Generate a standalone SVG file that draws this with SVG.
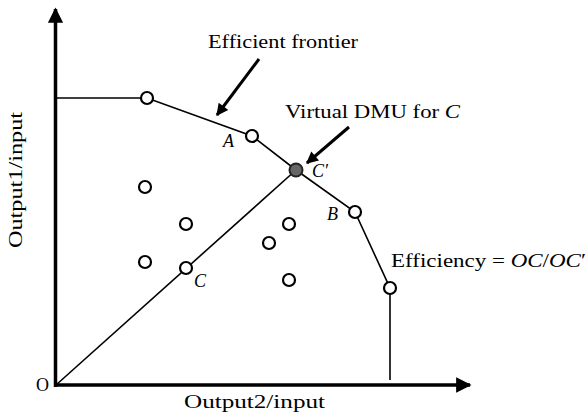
<svg xmlns="http://www.w3.org/2000/svg" width="588" height="420" viewBox="0 0 588 420">
<defs>
<style>
.t{font-family:"Liberation Serif","Times New Roman",serif;font-size:18px;fill:#000}
.i{font-style:italic}
.ln{stroke:#000;stroke-width:1.6;fill:none}
.ax{stroke:#000;stroke-width:3.5;fill:none}
.pt{fill:#fff;stroke:#000;stroke-width:2.2}
.pv{fill:#666;stroke:#222;stroke-width:2}
.ar{stroke:#000;stroke-width:3;fill:none}
</style>
<marker id="ah" viewBox="0 0 10 10" refX="9" refY="5" markerWidth="4.5" markerHeight="4" orient="auto" markerUnits="strokeWidth">
<path d="M0,0 L10,5 L0,10 z" fill="#000"/>
</marker>
<marker id="axh" viewBox="0 0 10 10" refX="9" refY="5" markerWidth="4.5" markerHeight="4.4" orient="auto" markerUnits="strokeWidth">
<path d="M0,0 L10,5 L0,10 z" fill="#000"/>
</marker>
</defs>
<rect width="588" height="420" fill="#fff"/>
<g id="connectors">
<line class="ax" x1="55.5" y1="387" x2="55.5" y2="9" marker-end="url(#axh)"/>
<line class="ax" x1="54" y1="385" x2="470" y2="385" marker-end="url(#axh)"/>
<polyline class="ln" points="56,98 147,98 252,136 296,170 355,212 390,288 390,380"/>
<line class="ln" x1="56" y1="385" x2="296" y2="170"/>
<line class="ar" x1="259" y1="59" x2="217" y2="115" marker-end="url(#ah)"/>
<line class="ar" x1="349" y1="127" x2="307" y2="163" marker-end="url(#ah)"/>
</g>
<g id="frontier-points">
<circle class="pt" cx="147" cy="98" r="6"/>
<circle id="A" class="pt" cx="252" cy="136" r="6"/>
<circle id="B" class="pt" cx="355" cy="212" r="6"/>
<circle class="pt" cx="390" cy="288" r="6"/>
</g>
<g id="Cprime"><circle class="pv" cx="296" cy="170" r="6.5"/></g>
<g id="inner-points">
<circle class="pt" cx="145" cy="187" r="6"/>
<circle class="pt" cx="186" cy="224" r="6"/>
<circle class="pt" cx="145" cy="262" r="6"/>
<circle id="C" class="pt" cx="186" cy="268" r="6"/>
<circle class="pt" cx="289" cy="224" r="6"/>
<circle class="pt" cx="269" cy="243" r="6"/>
<circle class="pt" cx="289" cy="280" r="6"/>
</g>
<g id="labels">
<text class="t" x="208" y="48" textLength="150" lengthAdjust="spacingAndGlyphs">Efficient frontier</text>
<text class="t" x="285" y="118" textLength="175" lengthAdjust="spacingAndGlyphs">Virtual DMU for <tspan class="i">C</tspan></text>
<text class="t i" x="223" y="147">A</text>
<text class="t i" x="327" y="220">B</text>
<text class="t i" x="194" y="287">C</text>
<text class="t i" x="312" y="177">C′</text>
<text class="t" x="391" y="267" textLength="195" lengthAdjust="spacingAndGlyphs">Efficiency = <tspan class="i">OC</tspan>/<tspan class="i">OC</tspan>′</text>
<text class="t" x="36" y="391">O</text>
<text class="t" x="184" y="408" textLength="141" lengthAdjust="spacingAndGlyphs">Output2/input</text>
<text class="t" transform="translate(22,180) rotate(-90)" text-anchor="middle" x="0" y="0" textLength="136" lengthAdjust="spacingAndGlyphs">Output1/input</text>
</g>
</svg>
